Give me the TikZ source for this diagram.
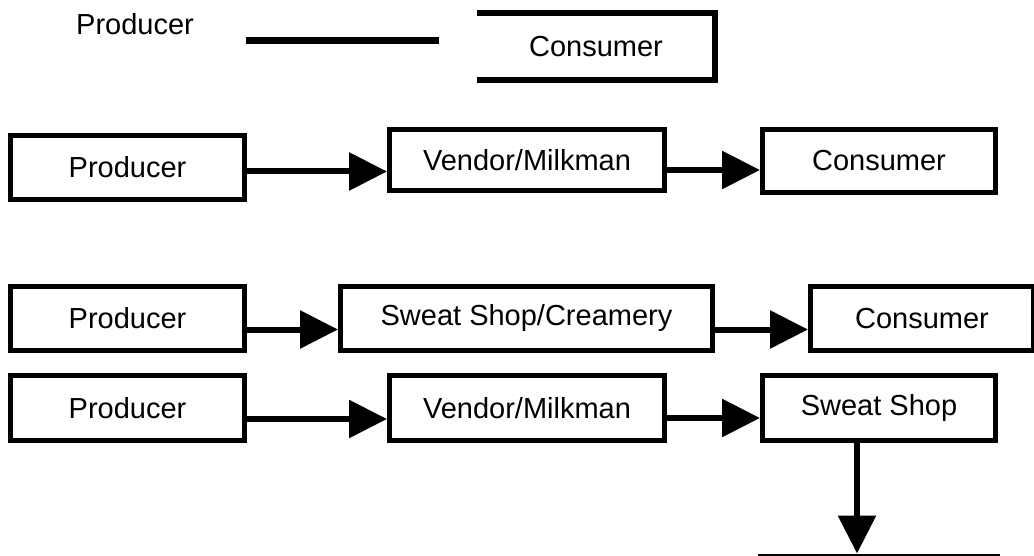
\documentclass[tikz,border=0pt]{standalone}
\usepackage{fontspec}
\setmainfont{Liberation Sans}
\usetikzlibrary{positioning, arrows.meta}
\tikzset{
    box/.style = {rectangle, draw=black, line width=5pt, minimum width=234pt,
                  minimum height=64pt, inner sep=0pt, font=\fontsize{29}{34}\selectfont},
    bare/.style = {inner sep=0pt, font=\fontsize{29}{34}\selectfont},
    arrow/.style = {-{Triangle[length=38pt, width=37pt]}, line width=6pt},
    bar/.style = {line width=7pt},
}
\begin{document}
\begin{tikzpicture}[x=1pt, y=-1pt]
        \useasboundingbox (0,0) rectangle (1034,556);
        \clip (0,0) rectangle (1034,556);
        % row 0
        \node[bare] (prod0) at (135,24) {Producer};
        \node[bare, minimum width=238pt, minimum height=67pt] (cons0) at (596,46.5) {Consumer};
        \coordinate (bar0a) at (246,41);
        \coordinate (bar0b) at (439,41);
        \draw[bar] (bar0a) -- (bar0b);
        \draw[line width=6pt] (cons0.north west) -- (cons0.north east) -- (cons0.south east) -- (cons0.south west);
        % row 1
        \node[box] (prod1) at (127.5,167.5) {Producer};
        \node[box, minimum width=275pt, minimum height=61pt] (vend1) at (527,160) {Vendor/Milkman};
        \node[box, minimum width=233pt, minimum height=63pt] (cons1) at (879,161) {Consumer};
        \draw[arrow] ([yshift=-4pt]prod1.east) -- ([yshift=-4pt]prod1.east -| vend1.west);
        \draw[arrow] ([yshift=-10pt]vend1.east) -- ([yshift=-10pt]vend1.east -| cons1.west);
        % row 2
        \node[box] (prod2) at (127.5,318.5) {Producer};
        \node[box, minimum width=372pt] (sweat2) at (526.5,318.5) {Sweat Shop/Creamery};
        \node[box, minimum width=223pt] (cons2) at (922,318.5) {Consumer};
        \draw[arrow] ([yshift=-11pt]prod2.east) -- ([yshift=-11pt]prod2.east -| sweat2.west);
        \draw[arrow] ([yshift=-11pt]sweat2.east) -- ([yshift=-11pt]sweat2.east -| cons2.west);
        % row 3
        \node[box, minimum height=65pt] (prod3) at (127.5,408) {Producer};
        \node[box, minimum width=275pt, minimum height=65pt] (vend3) at (527,408) {Vendor/Milkman};
        \node[box, minimum width=233pt, minimum height=65pt] (sweat3) at (879,408) {Sweat Shop};
        \node[box, minimum width=237pt] (next3) at (879,588) {};
        \draw[arrow] ([yshift=-11pt]prod3.east) -- ([yshift=-11pt]prod3.east -| vend3.west);
        \draw[arrow] ([yshift=-10pt]vend3.east) -- ([yshift=-10pt]vend3.east -| sweat3.west);
        \coordinate (dn) at (857,0);
        \draw[arrow] (sweat3.south -| dn) -- (next3.north -| dn);
      \end{tikzpicture}
\end{document}
